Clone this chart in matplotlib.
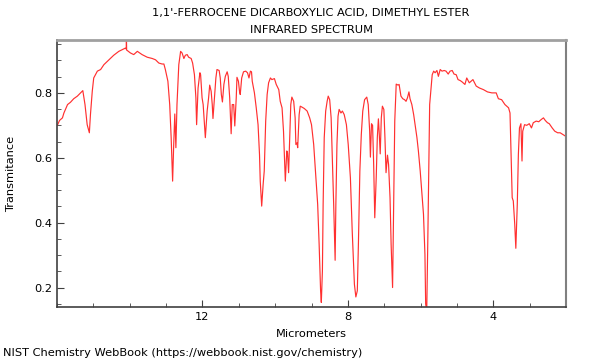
import numpy as np
import matplotlib
matplotlib.use("Agg")
import matplotlib.pyplot as plt
from matplotlib.ticker import MultipleLocator

title_1 = "1,1'-FERROCENE DICARBOXYLIC ACID, DIMETHYL ESTER"
title_2 = "INFRARED SPECTRUM"
x_label = "Micrometers"
y_label = "Transmitance"
credit = "NIST Chemistry WebBook (https://webbook.nist.gov/chemistry)"

# spectrum (micrometers, transmittance)
microns = [
    15.99, 15.93, 15.85, 15.81, 15.71, 15.63, 15.54, 15.44, 15.35, 15.29,
    15.23, 15.17, 15.11, 15.08, 15.03, 14.99, 14.89, 14.80, 14.71, 14.57,
    14.44, 14.30, 14.21, 14.12, 14.095, 14.09, 14.085, 14.06, 13.98, 13.89,
    13.79, 13.66, 13.52, 13.38, 13.29, 13.20, 13.11, 13.06, 13.02, 12.95,
    12.90, 12.86, 12.82, 12.79, 12.76, 12.73, 12.70, 12.65, 12.60, 12.56,
    12.51, 12.47, 12.42, 12.38, 12.31, 12.27, 12.22, 12.18, 12.16, 12.12,
    12.07, 12.05, 12.01, 11.98, 11.95, 11.92, 11.87, 11.83, 11.80, 11.76,
    11.73, 11.71, 11.67, 11.63, 11.60, 11.54, 11.51, 11.48, 11.45, 11.41,
    11.37, 11.32, 11.29, 11.25, 11.21, 11.18, 11.14, 11.11, 11.07, 11.05,
    11.01, 10.98, 10.96, 10.92, 10.87, 10.81, 10.76, 10.72, 10.68, 10.65,
    10.63, 10.57, 10.52, 10.47, 10.43, 10.41, 10.37, 10.33, 10.30, 10.26,
    10.22, 10.18, 10.13, 10.09, 10.02, 9.97, 9.90, 9.86, 9.81, 9.77,
    9.72, 9.68, 9.66, 9.63, 9.60, 9.57, 9.54, 9.49, 9.45, 9.43,
    9.40, 9.38, 9.34, 9.31, 9.26, 9.20, 9.12, 9.05, 9.00, 8.94,
    8.89, 8.83, 8.79, 8.75, 8.73, 8.70, 8.68, 8.65, 8.61, 8.57,
    8.54, 8.50, 8.46, 8.43, 8.39, 8.35, 8.33, 8.30, 8.27, 8.24,
    8.19, 8.15, 8.10, 8.04, 7.99, 7.93, 7.88, 7.82, 7.78, 7.74,
    7.71, 7.67, 7.63, 7.59, 7.54, 7.48, 7.44, 7.40, 7.38, 7.35,
    7.32, 7.29, 7.26, 7.22, 7.19, 7.16, 7.14, 7.11, 7.08, 7.05,
    7.01, 6.98, 6.95, 6.91, 6.88, 6.84, 6.81, 6.77, 6.74, 6.71,
    6.67, 6.62, 6.59, 6.54, 6.49, 6.44, 6.40, 6.36, 6.32, 6.29,
    6.24, 6.19, 6.15, 6.10, 6.06, 6.01, 5.97, 5.92, 5.88, 5.86,
    5.83, 5.80, 5.77, 5.75, 5.72, 5.68, 5.64, 5.60, 5.55, 5.51,
    5.46, 5.41, 5.35, 5.30, 5.24, 5.19, 5.13, 5.08, 5.02, 4.97,
    4.91, 4.86, 4.78, 4.73, 4.66, 4.56, 4.47, 4.38, 4.27, 4.16,
    4.04, 3.92, 3.86, 3.77, 3.68, 3.58, 3.54, 3.51, 3.48, 3.45,
    3.41, 3.38, 3.34, 3.31, 3.28, 3.24, 3.21, 3.19, 3.14, 3.08,
    3.01, 2.95, 2.90, 2.82, 2.75, 2.68, 2.62, 2.57, 2.51, 2.46,
    2.38, 2.31, 2.23, 2.16, 2.09, 2.02,
]
transmittance = [
    0.700, 0.715, 0.723, 0.738, 0.764, 0.771, 0.782, 0.790, 0.800, 0.807,
    0.764, 0.702, 0.677, 0.733, 0.805, 0.846, 0.867, 0.872, 0.887, 0.902,
    0.916, 0.928, 0.933, 0.938, 0.935, 0.975, 0.932, 0.930, 0.923, 0.918,
    0.928, 0.918, 0.910, 0.906, 0.902, 0.892, 0.889, 0.889, 0.872, 0.836,
    0.764, 0.662, 0.528, 0.641, 0.735, 0.631, 0.764, 0.887, 0.928, 0.923,
    0.906, 0.916, 0.918, 0.910, 0.906, 0.892, 0.856, 0.785, 0.702, 0.815,
    0.862, 0.856, 0.785, 0.764, 0.713, 0.662, 0.744, 0.785, 0.824, 0.805,
    0.764, 0.721, 0.785, 0.846, 0.872, 0.869, 0.846, 0.795, 0.772, 0.826,
    0.851, 0.865, 0.851, 0.785, 0.674, 0.764, 0.764, 0.698, 0.785, 0.848,
    0.836, 0.805, 0.795, 0.846, 0.865, 0.867, 0.862, 0.846, 0.867, 0.865,
    0.836, 0.800, 0.754, 0.702, 0.610, 0.528, 0.451, 0.518, 0.559, 0.713,
    0.795, 0.831, 0.846, 0.841, 0.844, 0.826, 0.810, 0.774, 0.754, 0.682,
    0.528, 0.621, 0.615, 0.554, 0.662, 0.764, 0.787, 0.774, 0.723, 0.641,
    0.646, 0.631, 0.733, 0.759, 0.756, 0.752, 0.744, 0.723, 0.702, 0.641,
    0.559, 0.456, 0.333, 0.190, 0.154, 0.251, 0.456, 0.662, 0.744, 0.774,
    0.790, 0.779, 0.723, 0.610, 0.456, 0.284, 0.456, 0.641, 0.728, 0.749,
    0.738, 0.744, 0.733, 0.702, 0.641, 0.538, 0.374, 0.210, 0.171, 0.190,
    0.333, 0.559, 0.672, 0.744, 0.779, 0.787, 0.764, 0.682, 0.602, 0.705,
    0.700, 0.579, 0.415, 0.538, 0.662, 0.720, 0.682, 0.612, 0.723, 0.759,
    0.749, 0.662, 0.554, 0.608, 0.579, 0.477, 0.333, 0.200, 0.456, 0.713,
    0.827, 0.824, 0.826, 0.790, 0.782, 0.779, 0.774, 0.785, 0.803, 0.782,
    0.764, 0.733, 0.702, 0.662, 0.621, 0.559, 0.498, 0.426, 0.302, 0.149,
    0.130, 0.354, 0.610, 0.764, 0.805, 0.856, 0.867, 0.862, 0.869, 0.851,
    0.872, 0.867, 0.869, 0.867, 0.858, 0.867, 0.869, 0.858, 0.856, 0.841,
    0.838, 0.834, 0.826, 0.846, 0.831, 0.841, 0.821, 0.815, 0.810, 0.803,
    0.800, 0.800, 0.782, 0.779, 0.764, 0.754, 0.738, 0.610, 0.477, 0.467,
    0.395, 0.321, 0.456, 0.610, 0.692, 0.705, 0.590, 0.682, 0.702, 0.700,
    0.705, 0.692, 0.708, 0.713, 0.711, 0.718, 0.723, 0.715, 0.708, 0.705,
    0.692, 0.682, 0.677, 0.677, 0.672, 0.667,
]

fs = 8.2

fig = plt.figure(figsize=(6, 3.6), dpi=100)
ax = fig.add_axes([57 / 600, 1 - 307 / 360, 509 / 600, 267 / 360])

ax.plot(microns, transmittance, color="#ff3030", lw=0.85)

ax.set_xlim(16, 2)
ax.set_ylim(0.14, 0.963)
ax.xaxis.set_minor_locator(MultipleLocator(1))
ax.yaxis.set_major_locator(MultipleLocator(0.2))
ax.yaxis.set_minor_locator(MultipleLocator(0.05))
ax.set_xticks([12, 8, 4])
ax.set_xticklabels(["12", "8", "4"])
ax.tick_params(which="both", direction="in", top=False, right=False,
               labelsize=fs, color="#404040")
ax.tick_params(which="major", length=5)
ax.tick_params(which="minor", length=3)

ax.spines["top"].set_color("#a0a0a0")
ax.spines["top"].set_linewidth(2)
ax.spines["right"].set_color("#808080")
ax.spines["right"].set_linewidth(1.5)
ax.spines["left"].set_color("#404040")
ax.spines["left"].set_linewidth(1.2)
ax.spines["bottom"].set_color("#404040")
ax.spines["bottom"].set_linewidth(1.2)

ax.set_xlabel(x_label, fontsize=fs, labelpad=5)
ax.set_ylabel(y_label, fontsize=fs)
ax.yaxis.set_label_coords(-(57 - 16) / 509, 0.5)
fig.text(311 / 600, 1 - 13 / 360, title_1, ha="center", va="center", fontsize=fs)
fig.text(311 / 600, 1 - 30 / 360, title_2, ha="center", va="center", fontsize=fs)
fig.text(3 / 600, 1 - 353 / 360, credit, ha="left", va="center", fontsize=fs)

fig.savefig("out.png", dpi=100)
